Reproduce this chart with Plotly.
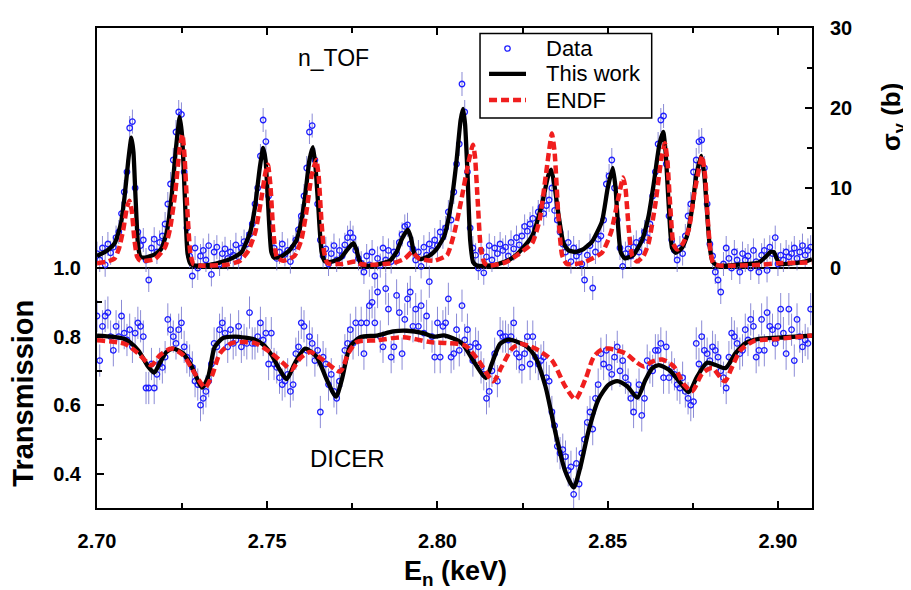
import numpy as np
import plotly.graph_objects as go

# ---------------- data ----------------
E_START = 2.7000
E_STEP = 0.0008

# n_TOF capture data (sigma_gamma, barn)
ntof_sigma = [
    1.8, 1.0, 2.5, 0.4, 3.0, 1.9, 2.6, 3.8, 4.5, 6.8,
    9.5, 12.0, 17.5, 18.3, 10.0, 4.5, 2.8, 3.5, 1.0, -1.5,
    2.5, 3.6, 2.0, 3.2, 4.0, 5.5, 8.0, 10.5, 13.5, 17.0,
    19.5, 19.2, 12.0, 5.0, 1.5, -1.0, 2.5, 0.0, 1.5, 2.2,
    1.0, 2.8, -0.8, 2.0, 2.6, 0.5, 1.8, 2.4, 1.2, 2.0,
    1.6, 2.9, 1.4, 2.5, 3.3, 3.0, 4.2, 5.5, 8.0, 10.0,
    14.0, 18.5, 15.8, 9.0, 5.0, 2.5, 1.2, 2.0, 3.0, 1.7,
    2.2, 0.8, 2.6, 3.5, 4.8, 6.5, 9.0, 12.5, 17.0, 17.8,
    13.5, 8.0, 3.5, 1.5, 2.4, 0.5, 1.8, 2.8, 1.0, 2.2,
    1.5, 2.9, 3.8, 4.4, 3.8, 2.2, 1.2, 0.6, -0.5, 1.5,
    0.4, 2.0, -1.0, 1.2, 0.3, 2.5, 1.0, 2.2, 0.8, 2.0,
    1.8, 3.2, 4.2, 5.2, 5.4, 3.0, 2.4, 1.0, 2.0, 0.2,
    2.6, 1.6, 3.0, 2.2, 3.5, 2.8, 4.5, 3.9, 5.0, 7.0,
    6.0, 9.5, 13.0, 15.5, 23.0, 19.5, 12.0, 5.0, 2.5, 1.6,
    0.0, 2.2, -0.6, 1.4, 2.8, 1.0, 2.5, 1.8, 3.0, 2.2,
    2.6, 1.5, 3.2, 2.4, 3.8, 2.9, 4.0, 5.2, 4.6, 5.5,
    6.2, 5.0, 7.0, 7.6, 6.8, 7.8, 8.5, 10.0, 7.2, 6.0,
    4.5, 3.0, 2.0, 3.2, 0.8, 2.5, 1.5, 2.0, 0.5, -1.5,
    1.6, 2.8, -2.5, 2.0, 3.6, 4.0, 6.0, 10.5, 11.5, 13.5,
    10.0, 6.0, 2.5, 0.2, 1.8, 2.4, 1.5, 2.6, 3.2, 2.0,
    3.5, 4.5, 3.8, 5.5, 9.0, 12.0, 15.5, 18.5, 19.0, 13.0,
    6.5, 3.5, 2.2, 1.0, 2.5, 1.8, 4.0, 6.5, 8.0, 12.0,
    13.5, 15.8, 16.0, 12.5, 8.0, 3.0, 1.5, -0.5, -1.5, -3.0,
    0.5, 2.5, 1.2, 0.0, 2.0, 1.0, -0.5, 1.8, 1.0, 1.5,
    0.0, 2.2, 0.8, -0.5, 1.6, 2.2, -0.3, 2.6, 1.8, 3.8,
    0.5, 1.6, 1.0, 2.0, 1.4, 1.8, 2.5, 1.2, 2.0, 2.8,
    1.6, 2.2, 2.6,
]

# DICER transmission data
dicer_trans = [
    0.86, 0.73, 0.83, 0.86, 0.87, 0.80, 0.76, 0.83, 0.80, 0.86,
    0.81, 0.79, 0.82, 0.77, 0.81, 0.84, 0.83, 0.80, 0.65, 0.65,
    0.72, 0.65, 0.69, 0.72, 0.71, 0.74, 0.85, 0.82, 0.80, 0.78,
    0.82, 0.84, 0.77, 0.74, 0.73, 0.71, 0.67, 0.66, 0.60, 0.62,
    0.64, 0.67, 0.72, 0.78, 0.77, 0.82, 0.84, 0.81, 0.77, 0.82,
    0.78, 0.79, 0.83, 0.77, 0.79, 0.78, 0.87, 0.78, 0.78, 0.80,
    0.84, 0.79, 0.81, 0.72, 0.81, 0.72, 0.71, 0.68, 0.66, 0.67,
    0.69, 0.64, 0.66, 0.75, 0.77, 0.84, 0.83, 0.76, 0.80, 0.78,
    0.73, 0.76, 0.58, 0.74, 0.72, 0.66, 0.69, 0.64, 0.62, 0.67,
    0.70, 0.76, 0.78, 0.82, 0.78, 0.84, 0.79, 0.84, 0.75, 0.84,
    0.89, 0.90, 0.84, 0.93, 0.80, 0.77, 0.94, 0.88, 0.74, 0.77,
    0.92, 0.87, 0.75, 0.85, 0.91, 0.93, 0.83, 0.88, 0.83, 0.89,
    0.81, 0.86, 0.96, 0.80, 0.74, 0.84, 0.74, 0.83, 0.84, 0.91,
    0.74, 0.75, 0.82, 0.76, 0.89, 0.79, 0.82, 0.77, 0.73, 0.78,
    0.77, 0.71, 0.69, 0.62, 0.64, 0.70, 0.75, 0.67, 0.81, 0.80,
    0.80, 0.79, 0.80, 0.84, 0.75, 0.74, 0.71, 0.75, 0.80, 0.72,
    0.80, 0.74, 0.72, 0.73, 0.74, 0.68, 0.67, 0.58, 0.54, 0.48,
    0.46, 0.47, 0.45, 0.41, 0.42, 0.34, 0.43, 0.37, 0.46, 0.50,
    0.55, 0.58, 0.53, 0.62, 0.66, 0.75, 0.72, 0.76, 0.71, 0.69,
    0.74, 0.77, 0.70, 0.73, 0.68, 0.66, 0.62, 0.58, 0.63, 0.66,
    0.57, 0.62, 0.73, 0.71, 0.70, 0.76, 0.76, 0.78, 0.68, 0.77,
    0.68, 0.71, 0.69, 0.66, 0.65, 0.68, 0.64, 0.62, 0.60, 0.61,
    0.78, 0.72, 0.80, 0.76, 0.75, 0.73, 0.77, 0.76, 0.74, 0.70,
    0.68, 0.65, 0.74, 0.81, 0.80, 0.78, 0.75, 0.76, 0.82, 0.79,
    0.85, 0.83, 0.74, 0.76, 0.85, 0.76, 0.87, 0.83, 0.82, 0.78,
    0.83, 0.88, 0.81, 0.75, 0.88, 0.82, 0.73, 0.85, 0.80, 0.77,
    0.79, 0.78, 0.88,
]

# "This work" fit, capture (E keV, sigma b)
fit_cap_E = [2.7000, 2.7030, 2.7052, 2.7070, 2.7081, 2.7092, 2.7101, 2.7107, 2.7113, 2.7121,
             2.7128, 2.7140, 2.7170, 2.7189, 2.7205, 2.7219, 2.7232, 2.7243, 2.7250, 2.7258,
             2.7266, 2.7275, 2.7290, 2.7330, 2.7370, 2.7400, 2.7425, 2.7450, 2.7464, 2.7478,
             2.7488, 2.7495, 2.7503, 2.7512, 2.7520, 2.7540, 2.7565, 2.7586, 2.7600, 2.7611,
             2.7624, 2.7634, 2.7641, 2.7650, 2.7660, 2.7670, 2.7690, 2.7715, 2.7735, 2.7753,
             2.7762, 2.7770, 2.7782, 2.7820, 2.7860, 2.7880, 2.7895, 2.7913, 2.7922, 2.7932,
             2.7949, 2.7975, 2.7998, 2.8020, 2.8040, 2.8055, 2.8068, 2.8075, 2.8081, 2.8088,
             2.8096, 2.8105, 2.8116, 2.8170, 2.8210, 2.8238, 2.8278, 2.8307, 2.8325, 2.8334,
             2.8343, 2.8356, 2.8370, 2.8385, 2.8405, 2.8430, 2.8454, 2.8483, 2.8500, 2.8515,
             2.8523, 2.8530, 2.8538, 2.8550, 2.8575, 2.8601, 2.8620, 2.8635, 2.8652, 2.8663,
             2.8670, 2.8679, 2.8689, 2.8700, 2.8718, 2.8733, 2.8748, 2.8760, 2.8775, 2.8784,
             2.8792, 2.8800, 2.8808, 2.8822, 2.8880, 2.8944, 2.8964, 2.8978, 2.8988, 2.8996,
             2.9005, 2.9045, 2.9080, 2.9100]
fit_cap_s = [1.5, 2.2, 3.1, 5.5, 8.9, 13.5, 16.3, 14.5, 9.0, 2.6,
             1.4, 1.3, 1.7, 2.4, 4.5, 8.9, 15.0, 18.9, 16.5, 8.9,
             1.8, 0.5, 0.3, 0.4, 0.8, 1.3, 2.0, 4.5, 7.6, 12.5,
             15.0, 13.5, 7.6, 2.0, 1.3, 1.4, 2.2, 3.5, 5.8, 8.9,
             13.5, 15.1, 13.0, 7.6, 1.9, 0.8, 0.8, 1.2, 2.3, 3.1,
             2.3, 1.0, 0.3, 0.4, 0.9, 2.0, 3.6, 4.8, 3.8, 1.8,
             1.1, 1.5, 2.4, 4.0, 8.0, 13.0, 18.5, 19.9, 18.0, 12.0,
             3.5, 0.7, 0.3, 0.4, 1.0, 1.9, 4.0, 8.0, 11.5, 12.3,
             10.5, 6.5, 3.1, 2.2, 2.0, 2.4, 3.3, 5.8, 10.0, 12.5,
             10.0, 5.5, 2.0, 1.2, 1.6, 3.5, 6.5, 10.5, 15.5, 17.0,
             14.5, 8.0, 2.5, 1.9, 2.5, 4.0, 7.5, 11.5, 14.0, 11.5,
             6.8, 2.5, 0.8, 0.3, 0.4, 0.7, 1.4, 2.0, 2.0, 1.2,
             0.5, 0.6, 0.8, 1.1]

# ENDF, capture
endf_cap_E = [2.7000, 2.7030, 2.7052, 2.7065, 2.7078, 2.7088, 2.7095, 2.7102, 2.7110, 2.7118,
              2.7128, 2.7170, 2.7200, 2.7215, 2.7230, 2.7243, 2.7251, 2.7257, 2.7265, 2.7274,
              2.7283, 2.7300, 2.7380, 2.7420, 2.7445, 2.7465, 2.7482, 2.7495, 2.7502, 2.7509,
              2.7518, 2.7528, 2.7547, 2.7580, 2.7600, 2.7615, 2.7630, 2.7644, 2.7651, 2.7659,
              2.7667, 2.7677, 2.7720, 2.7760, 2.7773, 2.7800, 2.7870, 2.7905, 2.7925, 2.7945,
              2.7990, 2.8028, 2.8050, 2.8070, 2.8090, 2.8104, 2.8110, 2.8118, 2.8127, 2.8138,
              2.8150, 2.8200, 2.8240, 2.8278, 2.8300, 2.8318, 2.8336, 2.8344, 2.8355, 2.8366,
              2.8380, 2.8430, 2.8483, 2.8510, 2.8530, 2.8545, 2.8552, 2.8562, 2.8572, 2.8586,
              2.8605, 2.8620, 2.8640, 2.8657, 2.8668, 2.8675, 2.8684, 2.8693, 2.8704, 2.8720,
              2.8738, 2.8755, 2.8777, 2.8786, 2.8794, 2.8802, 2.8810, 2.8830, 2.8950, 2.9000,
              2.9100]
endf_cap_s = [0.6, 0.8, 1.2, 2.5, 5.0, 7.6, 8.4, 7.2, 3.5, 1.4,
              0.9, 1.1, 2.6, 5.0, 9.5, 15.0, 16.7, 14.0, 7.5, 1.9,
              0.5, 0.3, 0.4, 0.9, 2.2, 4.5, 8.5, 12.0, 12.9, 10.5,
              4.5, 1.4, 0.9, 1.5, 3.5, 7.0, 11.5, 13.5, 11.5, 6.0,
              2.0, 0.6, 0.5, 0.8, 0.5, 0.4, 0.6, 1.2, 2.0, 1.2,
              0.9, 1.6, 4.5, 8.5, 13.0, 15.4, 14.0, 8.5, 2.5, 0.6,
              0.3, 0.7, 1.8, 3.1, 6.0, 11.5, 16.8, 14.5, 6.5, 1.6,
              0.5, 0.7, 1.9, 4.5, 8.5, 11.3, 10.0, 4.8, 1.5, 0.8,
              1.5, 3.1, 8.0, 13.5, 15.6, 13.5, 7.5, 3.0, 2.3, 3.0,
              4.8, 9.5, 14.0, 11.5, 6.0, 2.0, 0.6, 0.3, 0.4, 0.6,
              0.7]

# "This work" fit, transmission
fit_tr_E = [2.7000, 2.7081, 2.7121, 2.7150, 2.7168, 2.7184, 2.7204, 2.7224, 2.7253, 2.7278,
            2.7309, 2.7327, 2.7346, 2.7371, 2.7405, 2.7464, 2.7490, 2.7513, 2.7537, 2.7557,
            2.7581, 2.7611, 2.7645, 2.7675, 2.7702, 2.7719, 2.7743, 2.7773, 2.7822, 2.7870,
            2.7910, 2.7958, 2.7988, 2.8022, 2.8071, 2.8110, 2.8142, 2.8160, 2.8184, 2.8209,
            2.8258, 2.8287, 2.8317, 2.8346, 2.8375, 2.8400, 2.8419, 2.8443, 2.8473, 2.8503,
            2.8528, 2.8557, 2.8587, 2.8611, 2.8631, 2.8650, 2.8680, 2.8709, 2.8738, 2.8763,
            2.8792, 2.8817, 2.8846, 2.8875, 2.8905, 2.8944, 2.9022, 2.9100]
fit_tr_T = [0.803, 0.793, 0.760, 0.713, 0.695, 0.722, 0.755, 0.765, 0.751, 0.713,
            0.651, 0.684, 0.770, 0.796, 0.800, 0.791, 0.775, 0.746, 0.703, 0.676,
            0.722, 0.765, 0.741, 0.674, 0.625, 0.674, 0.770, 0.798, 0.803, 0.815,
            0.817, 0.810, 0.800, 0.803, 0.781, 0.722, 0.679, 0.722, 0.779, 0.791,
            0.774, 0.741, 0.655, 0.522, 0.408, 0.360, 0.417, 0.522, 0.617, 0.660,
            0.670, 0.655, 0.622, 0.674, 0.708, 0.717, 0.703, 0.670, 0.638, 0.684,
            0.724, 0.717, 0.708, 0.751, 0.781, 0.793, 0.798, 0.803]

# ENDF, transmission
endf_tr_E = [2.7000, 2.7081, 2.7121, 2.7160, 2.7184, 2.7219, 2.7253, 2.7287, 2.7317, 2.7337,
             2.7361, 2.7396, 2.7464, 2.7513, 2.7547, 2.7571, 2.7596, 2.7626, 2.7665, 2.7714,
             2.7738, 2.7763, 2.7822, 2.7900, 2.7978, 2.8028, 2.8081, 2.8120, 2.8164, 2.8189,
             2.8219, 2.8243, 2.8287, 2.8336, 2.8375, 2.8405, 2.8434, 2.8459, 2.8483, 2.8503,
             2.8552, 2.8582, 2.8606, 2.8631, 2.8660, 2.8694, 2.8724, 2.8748, 2.8778, 2.8807,
             2.8836, 2.8845, 2.8866, 2.8890, 2.8929, 2.8998, 2.9100]
endf_tr_T = [0.789, 0.779, 0.751, 0.716, 0.745, 0.765, 0.746, 0.693, 0.651, 0.684,
             0.751, 0.781, 0.781, 0.751, 0.722, 0.703, 0.736, 0.755, 0.731, 0.698,
             0.751, 0.784, 0.789, 0.798, 0.784, 0.781, 0.774, 0.731, 0.670, 0.713,
             0.765, 0.779, 0.765, 0.731, 0.655, 0.617, 0.674, 0.741, 0.763, 0.765,
             0.751, 0.727, 0.713, 0.727, 0.733, 0.713, 0.660, 0.641, 0.693, 0.708,
             0.674, 0.670, 0.713, 0.760, 0.787, 0.793, 0.803]

x_ticks = [2.70, 2.75, 2.80, 2.85, 2.90]
x_ticklabels = ["2.70", "2.75", "2.80", "2.85", "2.90"]
t_ticks = [0.4, 0.6, 0.8, 1.0]
t_ticklabels = ["0.4", "0.6", "0.8", "1.0"]
s_ticks = [0, 10, 20, 30]
s_ticklabels = ["0", "10", "20", "30"]
legend_labels = ["Data", "This work", "ENDF"]

# ---------------- figure ----------------
E_cap = E_START + E_STEP * np.arange(len(ntof_sigma))
E_tr = E_START + E_STEP * np.arange(len(dicer_trans))

FONT = "Liberation Sans, Arial, sans-serif"
BLUE = "#1f1fff"
ERRC = "rgba(100,100,200,0.75)"
RED = "#f01e1e"
DASH = "8px,4px"
LW_BLACK = 4.3
LW_RED = 4.5

fig = go.Figure()

data_style = dict(mode="markers",
                  marker=dict(symbol="circle-open", size=5.5, color=BLUE, line=dict(width=1.3, color=BLUE)))

fig.add_trace(go.Scatter(x=E_tr, y=dicer_trans, yaxis="y", name=legend_labels[0], showlegend=False,
                         error_y=dict(type="constant", value=0.047, color=ERRC, thickness=1, width=0),
                         **data_style))
fig.add_trace(go.Scatter(x=E_cap, y=ntof_sigma, yaxis="y2", name=legend_labels[0], showlegend=False,
                         error_y=dict(type="constant", value=1.5, color=ERRC, thickness=1, width=0),
                         **data_style))

fig.add_trace(go.Scatter(x=fit_tr_E, y=fit_tr_T, yaxis="y", mode="lines", name=legend_labels[1],
                         showlegend=False,
                         line=dict(color="black", width=LW_BLACK, shape="spline", smoothing=0.7)))
fig.add_trace(go.Scatter(x=fit_cap_E, y=fit_cap_s, yaxis="y2", mode="lines", name=legend_labels[1],
                         showlegend=False,
                         line=dict(color="black", width=LW_BLACK, shape="spline", smoothing=0.5)))
fig.add_trace(go.Scatter(x=endf_tr_E, y=endf_tr_T, yaxis="y", mode="lines", name=legend_labels[2],
                         showlegend=False,
                         line=dict(color=RED, width=LW_RED, dash=DASH, shape="spline", smoothing=0.7)))
fig.add_trace(go.Scatter(x=endf_cap_E, y=endf_cap_s, yaxis="y2", mode="lines", name=legend_labels[2],
                         showlegend=False,
                         line=dict(color=RED, width=LW_RED, dash=DASH, shape="spline", smoothing=0.5)))

tickfont = dict(family=FONT, size=20, color="black", weight="bold")

# legend box drawn in paper coordinates (plot area: 715 x 491 px)
PW, PH = 715.0, 491.0
lg_x0, lg_x1, lg_y0, lg_y1 = 0.5357, 0.7758, 0.8126, 0.9884
row_y = [0.9572, 0.9043, 0.8499]
sym_x0, sym_x1, sym_xc = 0.5483, 0.6000, 0.5741
txt_x = 0.6252
r_x, r_y = 2.7 / PW, 2.7 / PH

shapes = [
    dict(type="rect", xref="paper", yref="paper", x0=lg_x0, x1=lg_x1, y0=lg_y0, y1=lg_y1,
         line=dict(color="black", width=1.5), fillcolor="white", layer="above"),
    dict(type="circle", xref="paper", yref="paper", x0=sym_xc - r_x, x1=sym_xc + r_x,
         y0=row_y[0] - r_y, y1=row_y[0] + r_y, line=dict(color=BLUE, width=1.3), layer="above"),
    dict(type="line", xref="paper", yref="paper", x0=sym_x0, x1=sym_x1, y0=row_y[1], y1=row_y[1],
         line=dict(color="black", width=LW_BLACK), layer="above"),
    dict(type="line", xref="paper", yref="paper", x0=sym_x0, x1=sym_x1, y0=row_y[2], y1=row_y[2],
         line=dict(color=RED, width=LW_RED, dash=DASH), layer="above"),
]

annotations = [
    dict(text=lab, x=txt_x, y=yy, xref="paper", yref="paper", showarrow=False,
         font=dict(family=FONT, size=22, color="black"), xanchor="left", yanchor="middle")
    for lab, yy in zip(legend_labels, row_y)
] + [
    dict(text="n_TOF", x=0.3301, y=0.9369, xref="paper", yref="paper", showarrow=False,
         font=dict(family=FONT, size=23, color="black"), xanchor="center", yanchor="middle"),
    dict(text="DICER", x=0.3503, y=0.1033, xref="paper", yref="paper", showarrow=False,
         font=dict(family=FONT, size=24, color="black"), xanchor="center", yanchor="middle"),
    dict(text="<b>Transmission</b>", x=-0.1035, y=0.2403, xref="paper", yref="paper",
         showarrow=False, textangle=-90,
         font=dict(family=FONT, size=29, color="black"), xanchor="center", yanchor="middle"),
    dict(text="<b>σ<sub>γ</sub> (b)</b>", x=1.1133, y=0.8147, xref="paper", yref="paper",
         showarrow=False, textangle=-90,
         font=dict(family=FONT, size=26, color="black"), xanchor="center", yanchor="middle"),
    dict(text="<b>E<sub>n</sub> (keV)</b>", x=0.5007, y=-0.1344, xref="paper", yref="paper",
         showarrow=False,
         font=dict(family=FONT, size=27, color="black"), xanchor="center", yanchor="middle"),
]

fig.update_layout(
    width=903, height=582,
    margin=dict(l=89, r=99, t=9, b=82),
    paper_bgcolor="white", plot_bgcolor="white",
    font=dict(family=FONT, color="black"),
    showlegend=False,
    xaxis=dict(range=[2.70, 2.91], tickvals=x_ticks, ticktext=x_ticklabels,
               ticks="inside", ticklen=7, tickwidth=1.5, tickcolor="black",
               minor=dict(tickvals=[2.725, 2.775, 2.825, 2.875], ticks="inside", ticklen=5,
                          tickwidth=1.5, tickcolor="black"),
               showline=True, linecolor="black", linewidth=2, mirror="ticks",
               showgrid=False, zeroline=False, tickfont=tickfont, ticklabelstandoff=14),
    yaxis=dict(range=[0.3, 1.7], tickvals=t_ticks, ticktext=t_ticklabels,
               ticks="inside", ticklen=7, tickwidth=1.5, tickcolor="black",
               minor=dict(tickvals=[0.5, 0.7, 0.9], ticks="inside", ticklen=5,
                          tickwidth=1.5, tickcolor="black"),
               showline=True, linecolor="black", linewidth=2,
               showgrid=False, zeroline=False, tickfont=tickfont, ticklabelstandoff=10),
    yaxis2=dict(range=[-30, 30], tickvals=s_ticks, ticktext=s_ticklabels,
                overlaying="y", side="right",
                ticks="inside", ticklen=7, tickwidth=1.5, tickcolor="black",
                minor=dict(tickvals=[5, 15, 25], ticks="inside", ticklen=5,
                           tickwidth=1.5, tickcolor="black"),
                showline=True, linecolor="black", linewidth=2,
                showgrid=False, zeroline=True, zerolinecolor="black", zerolinewidth=2,
                tickfont=tickfont, ticklabelstandoff=12),
    shapes=shapes,
    annotations=annotations,
)

fig.write_html("out.html")
